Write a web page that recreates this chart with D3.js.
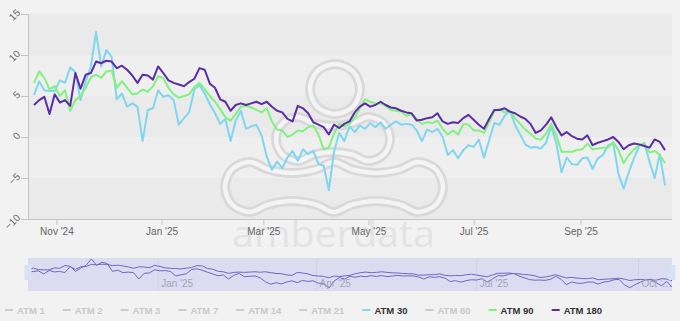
<!DOCTYPE html>
<html>
<head>
<meta charset="utf-8">
<script src="https://cdn.jsdelivr.net/npm/d3@7"></script>
<style>
html, body { margin: 0; padding: 0; background: #f2f2f2; }
svg { display: block; font-family: "Liberation Sans", Arial, Helvetica, sans-serif; }
</style>
</head>
<body>
<div class="chart"></div>
<script>
// one point every 3 days, starting 19 Oct 2024
var startDate = new Date(2024, 9, 19);
var stepDays = 3;

var atm30 = [5.1,6.8,5.7,5.6,5.6,6.9,6.6,8.5,7.9,4.5, 6.8,8.6,12.8,8.6,10.6,9.8,4.6,5.3,3.7,4.1,
  3.7,-0.5,3.3,3.5,5.7,4.9,5.1,4.5,1.5,2.3, 3.0,5.8,6.3,5.3,4.0,2.9,1.6,2.2,-0.5,2.0,
  3.2,1.0,1.3,1.5,0.2,-2.4,-4.0,-3.0,-3.8,-2.5, -1.7,-2.9,-1.5,-2.1,-1.7,-3.3,-3.5,-6.5,-1.8,0.5,
  -0.5,1.3,0.6,1.4,1.0,1.7,1.2,1.8,1.0,1.5, 1.9,1.5,1.6,1.5,0.8,-0.5,0.9,0.6,1.0,0.0,
  -2.2,-1.6,-2.6,-1.6,-1.0,-1.2,-0.3,-2.5,-0.4,1.7, 1.5,2.6,3.2,1.5,0.3,-0.9,-1.3,-1.2,-1.4,-0.7,
  1.3,-0.8,-4.3,-2.5,-3.3,-3.4,-2.6,-2.5,-3.9,-2.6, -2.2,-1.0,-0.8,-4.5,-6.3,-4.3,-2.6,-1.1,-0.7,-3.0,
  -5.0,-2.1,-5.9];

var atm90 = [6.6,8.0,7.2,5.8,6.2,5.0,5.7,3.2,4.5,5.0, 6.0,7.3,7.6,7.2,8.0,8.1,6.0,6.8,6.0,5.2,
  5.3,5.8,5.5,6.2,7.4,7.2,6.0,5.2,4.8,5.0, 5.2,6.1,6.6,5.8,5.0,4.3,3.4,2.4,2.0,2.8,
  3.7,3.8,3.6,3.3,3.0,3.5,1.9,0.9,0.8,0.0, 0.3,0.8,0.7,1.2,1.4,0.3,-1.5,-1.3,0.4,1.6,
  1.3,1.6,2.3,3.5,4.6,4.3,4.1,4.1,3.8,3.3, 3.2,3.1,2.6,2.8,2.2,1.6,1.8,1.7,2.0,1.0,
  0.3,0.8,0.3,1.6,1.5,0.8,0.8,0.5,1.8,3.2, 3.4,3.0,3.2,2.3,1.6,0.9,0.4,-0.2,-0.3,0.4,
  1.6,0.2,-1.8,-1.8,-1.8,-1.6,-1.5,-0.8,-1.5,-1.4, -1.3,-1.3,-0.6,-1.6,-3.2,-2.2,-1.5,-1.0,-0.8,-1.9,
  -1.7,-2.2,-3.2];

var atm180 = [3.9,4.5,4.9,2.8,5.2,4.2,4.5,3.8,7.8,5.9, 7.6,7.8,9.2,9.0,9.3,9.2,8.4,8.7,8.2,7.5,
  6.6,7.6,7.5,7.0,8.6,7.8,6.9,6.6,6.4,6.2, 6.7,7.1,8.4,8.2,6.5,6.0,4.6,4.3,3.2,3.9,
  4.1,3.9,4.1,4.3,4.0,4.3,3.7,3.2,3.0,2.2, 1.9,3.8,3.5,2.9,1.8,1.5,1.2,0.3,1.5,1.1,
  1.6,1.9,3.0,3.7,4.1,3.7,3.9,4.3,3.9,3.6, 3.5,3.2,3.0,2.9,2.0,2.1,2.3,2.4,2.9,1.9,
  1.6,1.8,1.7,2.3,2.7,2.1,1.5,1.0,2.2,3.3, 3.3,3.5,3.1,2.9,2.5,2.2,1.6,0.5,0.8,1.5,
  2.4,1.2,0.2,0.6,0.1,-0.2,-0.3,0.2,-1.0,-0.7, -0.5,-0.3,0.0,-0.6,-1.5,-1.0,-0.8,-0.9,-1.1,-1.3,
  -0.3,-0.6,-1.6];

var yTicks = [-10, -5, 0, 5, 10, 15];
var xTickDates = [new Date(2024,10,1), new Date(2025,0,1), new Date(2025,2,1), new Date(2025,4,1), new Date(2025,6,1), new Date(2025,8,1)];
var xTickLabels = ["Nov '24", "Jan '25", "Mar '25", "May '25", "Jul '25", "Sep '25"];
var navTickDates = [new Date(2025,0,1), new Date(2025,3,1), new Date(2025,6,1), new Date(2025,9,1)];
var navTickLabels = ["Jan '25", "Apr '25", "Jul '25", "Oct '\u2026"];
var legendNames = ["ATM 1","ATM 2","ATM 3","ATM 7","ATM 14","ATM 21","ATM 30","ATM 60","ATM 90","ATM 180"];
var legendColors = {"ATM 30": "#80d6f0", "ATM 90": "#80f27e", "ATM 180": "#5a2ca5"};

var dates = atm180.map(function(v, i){ return d3.timeDay.offset(startDate, i * stepDays); });

var series = [
  {name: "ATM 30", values: atm30},
  {name: "ATM 90", values: atm90},
  {name: "ATM 180", values: atm180}
];

var W = 680, H = 321;
var plot = {left: 28, right: 672, top: 14, bottom: 219};
var nav = {top: 258, bottom: 291};

const svg = d3.select(".chart").append("svg")
  .attr("width", W)
  .attr("height", H);

svg.append("rect").attr("width", W).attr("height", H).attr("fill", "#f2f2f2");

var x = d3.scaleTime()
  .domain(d3.extent(dates))
  .range([plot.left + 6, plot.right - 7]);

var y = d3.scaleLinear()
  .domain([-10, 15])
  .range([plot.bottom, plot.top]);

// plot bands
svg.append("rect")
  .attr("x", plot.left).attr("y", plot.top)
  .attr("width", plot.right - plot.left).attr("height", plot.bottom - plot.top)
  .attr("fill", "#efefef");
svg.selectAll("rect.band")
  .data([[10, 15], [0, 5], [-10, -5]])
  .enter().append("rect")
    .attr("class", "band")
    .attr("x", plot.left)
    .attr("y", function(d){ return y(d[1]); })
    .attr("width", plot.right - plot.left)
    .attr("height", function(d){ return y(d[0]) - y(d[1]); })
    .attr("fill", "#eaeaea");

// watermark (logo + name)
var wm = svg.append("g").attr("class", "watermark");
function lobePath(cxs, cy, r, w) {
  var top = [[cxs[0] - r, cy]];
  cxs.forEach(function(cx, i){
    top.push([cx - r * 0.71, cy - r * 0.71], [cx, cy - r], [cx + r * 0.71, cy - r * 0.71]);
    if (i < cxs.length - 1) top.push([(cx + cxs[i + 1]) / 2, cy - w]);
  });
  top.push([cxs[cxs.length - 1] + r, cy]);
  var bottom = top.slice(1, -1).reverse().map(function(p){ return [p[0], 2 * cy - p[1]]; });
  return d3.line().curve(d3.curveCatmullRomClosed)(top.concat(bottom));
}
var shapes = [
  lobePath([335], 89, 25, 25),
  lobePath([298, 368], 139, 22, 13),
  lobePath([250, 334, 418], 187, 25, 14)
];
[["#d9d9d9", 10], ["#f4f4f4", 4.5]].forEach(function(s){
  wm.selectAll(null).data(shapes).enter().append("path")
    .attr("d", function(d){ return d; })
    .attr("fill", "none")
    .attr("stroke", s[0])
    .attr("stroke-width", s[1]);
});
wm.append("text")
  .attr("x", 232).attr("y", 247)
  .attr("textLength", 203).attr("lengthAdjust", "spacingAndGlyphs")
  .style("font-family", "'Open Sans', 'DejaVu Sans', sans-serif")
  .style("font-size", "36px")
  .attr("fill", "#e3e3e3")
  .text("amberdata");

// axes
var xAxis = d3.axisBottom(x)
  .tickValues(xTickDates)
  .tickFormat(function(d, i){ return xTickLabels[i]; })
  .tickSize(6);
var gx = svg.append("g")
  .attr("transform", "translate(0," + plot.bottom + ")")
  .call(xAxis);
gx.select(".domain").remove();
gx.selectAll("line").attr("stroke", "#c4c4c4");
gx.selectAll("text").attr("fill", "#666").style("font-size", "10px").attr("y", 9);
svg.append("line")
  .attr("x1", plot.left).attr("x2", plot.right)
  .attr("y1", plot.bottom + 0.5).attr("y2", plot.bottom + 0.5)
  .attr("stroke", "#c4c4c4");

var yAxis = d3.axisLeft(y).tickValues(yTicks).tickSize(7);
var gy = svg.append("g")
  .attr("transform", "translate(" + plot.left + ",0)")
  .call(yAxis);
gy.select(".domain").attr("stroke", "#c4c4c4");
gy.selectAll("line").attr("stroke", "#c4c4c4");
gy.selectAll("text")
  .attr("fill", "#666")
  .style("font-size", "10px")
  .attr("x", null).attr("dy", null)
  .attr("text-anchor", "end")
  .attr("transform", "translate(-9,-3) rotate(-45)")
  .attr("dominant-baseline", "middle");

// lines
var line = d3.line()
  .x(function(d, i){ return x(dates[i]); })
  .y(function(d){ return y(d); });

svg.selectAll("path.series")
  .data(series)
  .enter().append("path")
    .attr("class", "series")
    .attr("fill", "none")
    .attr("stroke", function(d){ return legendColors[d.name]; })
    .attr("stroke-width", 2)
    .attr("stroke-linejoin", "round")
    .attr("d", function(d){ return line(d.values); });

// navigator
var nx = d3.scaleTime().domain(d3.extent(dates)).range([plot.left, plot.right]);
var navVals = atm30.concat(atm180);
var ny = d3.scaleLinear().domain(d3.extent(navVals)).range([nav.bottom - 3, nav.top + 1]);
var gn = svg.append("g");
gn.append("rect")
  .attr("x", plot.left).attr("y", nav.top)
  .attr("width", plot.right - plot.left).attr("height", nav.bottom - nav.top)
  .attr("fill", "#dcdcf1");
gn.selectAll("line.ngrid")
  .data(navTickDates)
  .enter().append("line")
    .attr("class", "ngrid")
    .attr("x1", function(d){ return nx(d); }).attr("x2", function(d){ return nx(d); })
    .attr("y1", nav.top).attr("y2", nav.bottom)
    .attr("stroke", "#d2d2ea");
var navLine = d3.line()
  .x(function(d, i){ return nx(dates[i]); })
  .y(function(d){ return ny(d); });
gn.selectAll("path.nav")
  .data([atm30, atm180])
  .enter().append("path")
    .attr("class", "nav")
    .attr("fill", "none")
    .attr("stroke", "#7463c6")
    .attr("stroke-width", 1)
    .attr("d", function(d){ return navLine(d); });
gn.selectAll("text")
  .data(navTickDates)
  .enter().append("text")
    .attr("x", function(d){ return nx(d) + 3; })
    .attr("y", nav.bottom - 4)
    .attr("fill", "#a3a3b8")
    .style("font-size", "10px")
    .text(function(d, i){ return navTickLabels[i]; });
gn.selectAll("rect.handle")
  .data([plot.left, plot.right])
  .enter().append("rect")
    .attr("class", "handle")
    .attr("x", function(d){ return d - 3.5; })
    .attr("y", 265).attr("width", 7).attr("height", 15)
    .attr("fill", "#d6e2f6");

// legend
var legend = svg.append("g").attr("transform", "translate(5,310)");
var lx = 0;
legendNames.forEach(function(name){
  var c = legendColors[name];
  var g = legend.append("g").attr("transform", "translate(" + lx + ",0)");
  g.append("line")
    .attr("x1", 0).attr("x2", 8).attr("y1", 0).attr("y2", 0)
    .attr("stroke", c || "#cccccc").attr("stroke-width", 2);
  var t = g.append("text")
    .attr("x", 12).attr("y", 3.5)
    .style("font-size", "9.5px").style("font-weight", "bold")
    .attr("fill", c ? "#333" : "#c8c8c8")
    .text(name);
  lx += 12 + t.node().getComputedTextLength() + 18;
});
</script>
</body>
</html>
